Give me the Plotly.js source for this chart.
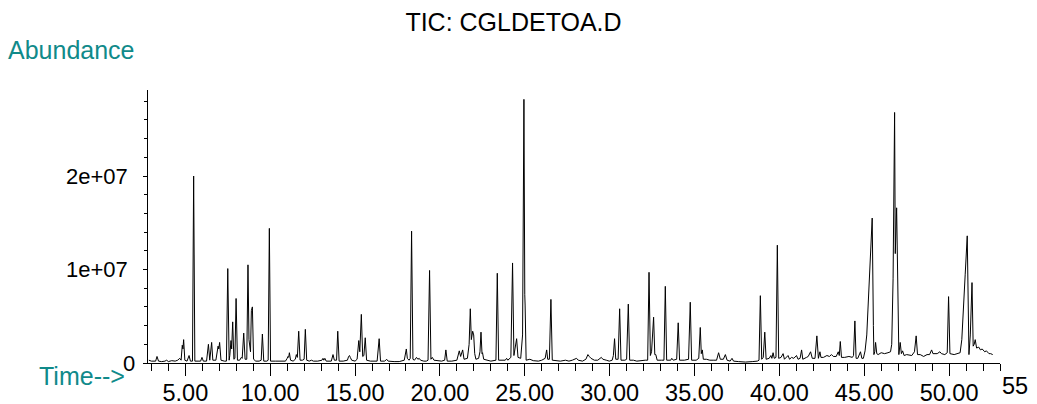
<!DOCTYPE html>
<html>
<head>
<meta charset="utf-8">
<script src="https://cdn.plot.ly/plotly-3.0.1.min.js"></script>
<style>
  html, body { margin: 0; padding: 0; background: #ffffff; }
  #chart { width: 1037px; height: 404px; }
</style>
</head>
<body>
<div id="chart"></div>
<script>
// ---- Data (time in min, abundance in millions) ----
const timeMin = [
  2.85, 3.0, 3.25, 3.33, 3.42, 3.6, 3.8, 3.9, 4.0, 4.2, 4.4, 4.55, 4.67, 4.75, 4.82, 4.86, 4.90, 4.97,
  5.10, 5.22, 5.30, 5.42, 5.49, 5.56, 5.75, 5.90, 5.98, 6.06, 6.25, 6.36, 6.44, 6.55, 6.62, 6.80,
  6.93, 6.97, 7.02, 7.10, 7.30, 7.42, 7.50, 7.58, 7.62, 7.69, 7.73, 7.79, 7.86, 7.92, 7.99, 8.07,
  8.20, 8.30, 8.35, 8.44, 8.52, 8.62, 8.69, 8.75, 8.79, 8.84, 8.89, 8.95, 9.02, 9.15, 9.35, 9.47,
  9.54, 9.62, 9.80, 9.88, 9.95, 10.02, 10.3, 10.6, 10.9, 11.00, 11.05, 11.09, 11.13, 11.2, 11.35,
  11.48, 11.54, 11.60, 11.68, 11.76, 11.90, 12.00, 12.07, 12.15, 12.30, 12.43, 12.55, 12.8, 13.05,
  13.11, 13.16, 13.22, 13.30, 13.60, 13.70, 13.78, 13.91, 13.98, 14.06, 14.3, 14.55, 14.62, 14.67,
  14.72, 14.80, 15.0, 15.12, 15.22, 15.28, 15.37, 15.45, 15.52, 15.60, 15.68, 15.90, 16.30, 16.42,
  16.50, 16.75, 16.86, 16.95, 17.30, 17.60, 17.9, 18.02, 18.08, 18.12, 18.18, 18.25, 18.33, 18.41,
  18.50, 18.62, 18.70, 18.78, 18.86, 19.05, 19.20, 19.30, 19.39, 19.47, 19.55, 19.65, 19.90, 20.10,
  20.28, 20.35, 20.43, 20.70, 21.0, 21.14, 21.22, 21.34, 21.42, 21.62, 21.72, 21.79, 21.85, 21.93,
  21.99, 22.05, 22.12, 22.28, 22.36, 22.42, 22.48, 22.51, 22.58, 22.80, 23.0, 23.30, 23.38, 23.46,
  23.70, 23.85, 23.93, 24.0, 24.18, 24.28, 24.36, 24.43, 24.52, 24.60, 24.76, 24.87, 24.95, 25.00,
  25.02, 25.08, 25.30, 25.5, 25.8, 26.00, 26.2, 26.29, 26.35, 26.45, 26.54, 26.62, 26.85, 27.1,
  27.4, 27.6, 27.8, 28.05, 28.15, 28.4, 28.6, 28.72, 28.80, 28.9, 29.1, 29.3, 29.51, 29.60, 29.8,
  29.98, 30.15, 30.22, 30.29, 30.36, 30.50, 30.59, 30.67, 30.90, 31.00, 31.10, 31.18, 31.40, 31.6,
  31.9, 32.1, 32.24, 32.32, 32.40, 32.47, 32.59, 32.66, 32.72, 32.80, 33.05, 33.20, 33.28, 33.36,
  33.60, 33.66, 33.75, 33.95, 34.04, 34.12, 34.40, 34.65, 34.75, 34.83, 35.10, 35.25, 35.34, 35.40,
  35.46, 35.52, 35.70, 35.9, 36.1, 36.3, 36.42, 36.52, 36.70, 36.82, 36.92, 37.10, 37.21, 37.3,
  37.6, 38.0, 38.4, 38.70, 38.80, 38.88, 38.96, 39.05, 39.14, 39.22, 39.40, 39.50, 39.56, 39.63,
  39.70, 39.80, 39.88, 39.96, 40.10, 40.22, 40.30, 40.51, 40.60, 40.72, 40.85, 41.01, 41.1, 41.22,
  41.31, 41.38, 41.60, 41.70, 41.84, 41.94, 42.10, 42.21, 42.30, 42.39, 42.45, 42.60, 42.8, 42.95,
  43.07, 43.18, 43.35, 43.47, 43.53, 43.59, 43.66, 43.85, 44.10, 44.30, 44.37, 44.45, 44.52, 44.62,
  44.78, 44.86, 44.95, 45.05, 45.15, 45.25, 45.35, 45.47, 45.54, 45.57, 45.62, 45.67, 45.74, 45.82,
  46.0, 46.2, 46.4, 46.55, 46.62, 46.70, 46.79, 46.83, 46.91, 47.0, 47.04, 47.12, 47.19, 47.26,
  47.35, 47.5, 47.8, 47.96, 48.06, 48.14, 48.3, 48.5, 48.7, 48.85, 48.97, 49.05, 49.30, 49.46,
  49.55, 49.75, 49.89, 49.97, 50.05, 50.3, 50.55, 50.65, 50.75, 50.85, 50.95, 51.07, 51.13, 51.17,
  51.25, 51.35, 51.42, 51.48, 51.54, 51.62, 51.75, 51.85, 51.95, 52.10, 52.20, 52.35, 52.45, 52.57
];
const abundanceMillions = [
  0.3, 0.2, 0.2, 0.7, 0.2, 0.15, 0.2, 0.3, 0.15, 0.25, 0.2, 0.3, 0.5, 0.3, 1.9, 1.5, 2.5, 0.3,
  0.2, 0.8, 0.2, 0.2, 20.0, 0.2, 0.2, 0.2, 0.6, 0.2, 0.2, 2.0, 0.3, 2.2, 0.3, 0.3,
  1.8, 1.5, 2.2, 0.3, 0.2, 0.2, 10.1, 0.3, 0.8, 2.4, 1.5, 4.4, 0.4, 0.5, 6.9, 0.3,
  0.3, 0.6, 0.5, 3.2, 0.4, 0.4, 10.5, 2.5, 2.1, 1.2, 5.6, 6.0, 0.4, 0.2, 0.2, 0.3,
  3.1, 0.2, 0.2, 0.3, 14.4, 0.2, 0.2, 0.2, 0.2, 0.5, 0.7, 0.6, 1.1, 0.3, 0.2,
  0.4, 0.9, 0.6, 3.4, 0.3, 0.3, 0.4, 3.6, 0.3, 0.2, 0.3, 0.2, 0.2, 0.3,
  0.5, 0.3, 0.5, 0.2, 0.2, 0.9, 0.3, 0.3, 3.4, 0.2, 0.2, 0.3, 0.7, 0.8,
  0.6, 0.3, 0.2, 0.4, 2.4, 1.2, 5.2, 0.7, 0.8, 2.7, 0.3, 0.2, 0.2, 2.6,
  0.2, 0.2, 0.4, 0.2, 0.15, 0.15, 0.3, 1.5, 0.5, 0.4, 0.3, 0.5, 14.1, 0.4,
  0.3, 0.6, 0.4, 0.5, 0.3, 0.2, 0.2, 0.3, 9.9, 0.4, 0.6, 0.3, 0.2, 0.2,
  0.3, 1.4, 0.2, 0.2, 0.3, 1.3, 0.7, 1.4, 0.4, 0.5, 2.0, 5.8, 2.5, 3.4,
  3.0, 1.0, 0.4, 0.5, 1.2, 3.3, 1.0, 1.1, 0.4, 0.3, 0.2, 0.3, 9.6, 0.3,
  0.3, 0.3, 0.5, 0.3, 0.6, 10.7, 0.8, 1.6, 2.6, 0.6, 0.5, 3.0, 28.2, 7.3,
  6.2, 0.3, 0.4, 0.25, 0.2, 0.3, 0.5, 1.4, 0.4, 0.4, 6.8, 0.3, 0.25, 0.2,
  0.3, 0.2, 0.3, 0.5, 0.3, 0.2, 0.4, 0.9, 0.7, 0.5, 0.3, 0.3, 0.6, 0.4, 0.3,
  0.2, 0.3, 0.8, 2.6, 0.4, 0.4, 5.8, 0.3, 0.3, 0.4, 6.3, 0.3, 0.3, 0.2,
  0.3, 0.3, 0.3, 9.7, 0.8, 1.2, 4.9, 0.9, 0.9, 0.3, 0.3, 0.3, 8.2, 0.3,
  0.3, 0.5, 0.3, 0.4, 4.3, 0.3, 0.3, 0.4, 6.5, 0.3, 0.3, 0.5, 3.8, 1.0,
  1.4, 0.4, 0.4, 0.3, 0.3, 0.3, 1.1, 0.4, 0.4, 0.9, 0.3, 0.2, 0.5, 0.2,
  0.15, 0.1, 0.15, 0.2, 0.3, 7.2, 0.4, 0.6, 3.3, 0.4, 0.5, 0.8, 0.5, 1.1,
  0.5, 0.6, 12.6, 0.5, 0.6, 1.0, 0.4, 0.8, 0.4, 0.6, 0.5, 0.8, 0.4, 0.5,
  1.4, 0.4, 0.6, 0.7, 1.2, 0.5, 0.5, 2.9, 0.5, 1.2, 0.6, 0.6, 0.8, 0.7,
  0.9, 0.7, 0.7, 1.2, 0.8, 2.3, 0.6, 0.6, 0.7, 0.6, 0.8, 4.5, 0.5, 0.5,
  1.2, 0.5, 0.5, 1.3, 3.0, 6.5, 11.0, 15.5, 4.0, 0.9, 1.2, 2.2, 1.0, 0.9,
  1.1, 1.0, 1.1, 1.2, 2.0, 9.0, 26.8, 11.7, 16.6, 1.0, 0.9, 2.2, 1.0, 1.3,
  0.8, 0.9, 0.8, 1.2, 2.9, 0.9, 0.9, 0.7, 0.9, 0.9, 1.4, 1.0, 1.0, 1.2,
  1.0, 0.9, 1.1, 7.1, 1.0, 0.9, 1.0, 1.1, 2.5, 5.5, 9.5, 13.6, 4.0, 0.9,
  3.0, 8.6, 1.8, 2.0, 2.5, 1.6, 1.7, 1.4, 1.5, 1.2, 1.3, 1.0, 1.0, 0.9
];
const xRange = [2.8, 53.0];
const yRange = [0, 2.92e7];
const xMajorTickVals = [5, 10, 15, 20, 25, 30, 35, 40, 45, 50];
const xEdgeTickText = '55';          // label at the right edge, cut short in the reference
const yTickVals = [0, 1e7, 2e7];
const yTickText = ['0', '1e+07', '2e+07'];
const titleText = 'TIC: CGLDETOA.D';
const yLabelText = 'Abundance';
const xLabelText = 'Time-->';

// ---- Layout geometry ----
const W = 1037, H = 404;
const M = { l: 148, r: 37, t: 90, b: 41 };
const PW = W - M.l - M.r, PH = H - M.t - M.b;
const pxX = px => (px - M.l) / PW;          // page px -> paper x
const pxY = py => (H - M.b - py) / PH;      // page px -> paper y
const FONT = 'Liberation Sans, Arial, Helvetica, sans-serif';
const TEAL = '#108a8a';

const abundance = abundanceMillions.map(v => v * 1e6);

const trace = {
  x: timeMin,
  y: abundance,
  type: 'scatter',
  mode: 'lines',
  line: { color: '#000000', width: 1 },
  hoverinfo: 'skip',
  showlegend: false
};

const annotations = [];
// y tick labels
yTickVals.forEach((v, i) => {
  annotations.push({
    xref: 'paper', yref: 'y',
    x: pxX(i === 0 ? 135 : 128), y: v,
    xanchor: 'right', yanchor: 'middle',
    text: yTickText[i], showarrow: false,
    borderpad: 0, borderwidth: 0,
    font: { family: FONT, size: 22, color: '#000000' }
  });
});
// right-edge "55" label
annotations.push({
  xref: 'paper', yref: 'paper',
  x: pxX(1002), y: pxY(386), xanchor: 'left', yanchor: 'middle',
  text: xEdgeTickText, showarrow: false,
  borderpad: 0, borderwidth: 0,
  font: { family: FONT, size: 23.5, color: '#000000' }
});
// Abundance label
annotations.push({
  xref: 'paper', yref: 'paper',
  x: pxX(8), y: pxY(50), xanchor: 'left', yanchor: 'middle',
  text: yLabelText, showarrow: false, borderpad: 0, borderwidth: 0,
  font: { family: FONT, size: 25, color: TEAL }
});
// Time--> label
annotations.push({
  xref: 'paper', yref: 'paper',
  x: pxX(125), y: pxY(376), xanchor: 'right', yanchor: 'middle',
  text: xLabelText, showarrow: false, borderpad: 0, borderwidth: 0,
  font: { family: FONT, size: 25, color: TEAL }
});

const layout = {
  width: W, height: H,
  margin: M,
  paper_bgcolor: '#ffffff', plot_bgcolor: '#ffffff',
  showlegend: false,
  title: {
    text: titleText,
    xref: 'container', yref: 'container',
    x: 513.5 / W, y: 1 - 22 / H,
    xanchor: 'center', yanchor: 'middle',
    font: { family: FONT, size: 25, color: '#000000' }
  },
  xaxis: {
    range: xRange,
    showgrid: false, zeroline: false,
    showline: true, linecolor: '#000000', linewidth: 1,
    ticks: 'outside', ticklen: 12, tickwidth: 1, tickcolor: '#000000',
    tickmode: 'array', tickvals: xMajorTickVals,
    ticktext: xMajorTickVals.map(v => v.toFixed(2)),
    ticklabelstandoff: -3,
    tickfont: { family: FONT, size: 23.5, color: '#000000' },
    minor: { ticks: 'outside', dtick: 1, tick0: 0, ticklen: 7, tickwidth: 1, tickcolor: '#000000', showgrid: false },
    fixedrange: true
  },
  yaxis: {
    range: yRange,
    showgrid: false, zeroline: false,
    showline: true, linecolor: '#000000', linewidth: 1,
    ticks: 'outside', ticklen: 4, tickwidth: 1, tickcolor: '#000000',
    tickmode: 'array', tickvals: yTickVals,
    showticklabels: false,
    minor: { ticks: 'outside', dtick: 2e6, tick0: 0, ticklen: 3, tickwidth: 1, tickcolor: '#000000', showgrid: false },
    fixedrange: true
  },
  annotations: annotations
};

Plotly.newPlot('chart', [trace], layout, { staticPlot: true, displayModeBar: false });
</script>
</body>
</html>
